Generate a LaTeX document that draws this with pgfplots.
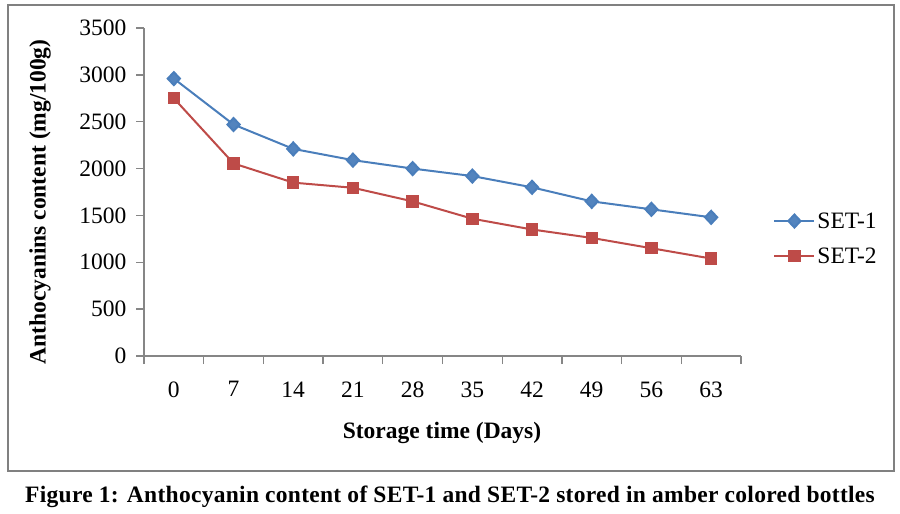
\documentclass[border=0pt]{standalone}
\usepackage{fontspec}
\setmainfont{Liberation Serif}
\usepackage{pgfplots}
\pgfplotsset{compat=1.18}

\definecolor{setblue}{HTML}{4A7EBB}
\definecolor{setred}{HTML}{BE4B48}
\definecolor{axgray}{HTML}{868686}
\definecolor{framegray}{HTML}{808080}

\newcommand{\chartfont}{\fontsize{23.5}{28}\selectfont}

\begin{document}
\begin{tikzpicture}
\useasboundingbox (0pt,0pt) rectangle (900pt,-514pt);
\draw[framegray, line width=2pt] (8pt,-5pt) rectangle (894pt,-471pt);

\begin{axis}[
    at={(144pt,-356pt)}, anchor=south west,
    width=597pt, height=328pt, scale only axis,
    xmin=-3.5, xmax=66.5, ymin=0, ymax=3500,
    axis lines*=left,
    axis line style={draw=axgray, line width=1.3pt},
    tick align=outside,
    xtick={0,7,...,63},
    minor xtick={-3.5,3.5,...,66.5},
    ytick={0,500,...,3500},
    major tick length=8pt, minor tick length=8pt,
    tick style={draw=axgray, line width=1.3pt},
    major x tick style={draw=none},
    ticklabel style={font=\chartfont},
    xticklabel style={yshift=-14pt},
    yticklabel style={xshift=-6pt},
    /pgf/number format/assume math mode=true,
    /pgf/number format/1000 sep={},
    clip=false,
    legend style={at={(1.049,0.358)}, anchor=west, draw=none, fill=none,
        font=\chartfont, row sep=14pt},
    legend cell align=left,
    legend image code/.code={
        \draw[mark repeat=2, mark phase=2] plot coordinates {(0pt,0pt) (20pt,0pt) (40pt,0pt)};
    },
]
\addplot[setblue, line width=2pt, mark=diamond*, mark size=6.5pt,
    mark options={xscale=1.25, fill=setblue!95!white}]
    coordinates {(0,2960) (7,2470) (14,2210) (21,2090) (28,2000)
                 (35,1920) (42,1800) (49,1650) (56,1565) (63,1480)};
\addlegendentry{SET-1}
\addplot[setred, line width=2pt, mark=square*, mark size=5.2pt,
    mark options={fill=setred}]
    coordinates {(0,2750) (7,2055) (14,1850) (21,1795) (28,1650)
                 (35,1465) (42,1350) (49,1260) (56,1150) (63,1040)};
\addlegendentry{SET-2}
\end{axis}

\node[rotate=90, font=\chartfont\bfseries] at (40pt,-202pt) {Anthocyanins content (mg/100g)};
\node[font=\chartfont\bfseries] at (442pt,-433pt) {Storage time (Days)};
\node[font=\chartfont\bfseries\addfontfeature{LetterSpace=1.2}] at (450pt,-497pt) {Figure 1: Anthocyanin content of SET-1 and SET-2 stored in amber colored bottles};
\end{tikzpicture}
\end{document}
